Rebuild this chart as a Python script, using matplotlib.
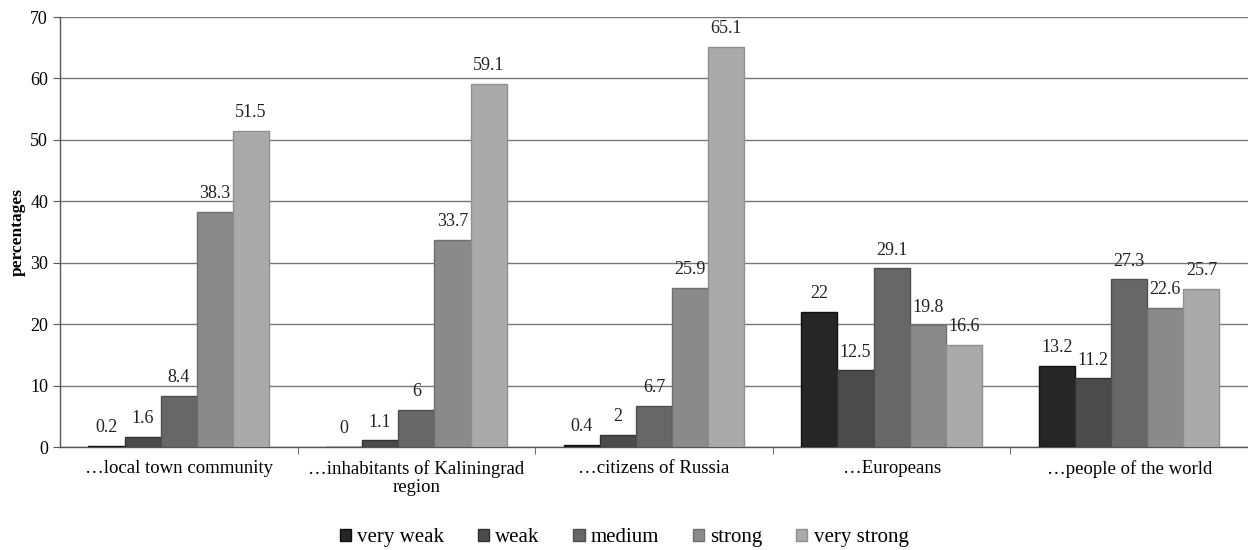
import numpy as np
import matplotlib.pyplot as plt

plt.rcParams.update({
    'font.family': 'serif',
    'font.serif': ['Liberation Serif', 'DejaVu Serif'],
    'axes.linewidth': 1.0,
})

categories = ['\u2026local town community', '\u2026inhabitants of Kaliningrad\nregion',
              '\u2026citizens of Russia', '\u2026Europeans', '\u2026people of the world']
series = ['very weak', 'weak', 'medium', 'strong', 'very strong']
very_weak = [0.2, 0, 0.4, 22, 13.2]
weak = [1.6, 1.1, 2, 12.5, 11.2]
medium = [8.4, 6, 6.7, 29.1, 27.3]
strong = [38.3, 33.7, 25.9, 19.8, 22.6]
very_strong = [51.5, 59.1, 65.1, 16.6, 25.7]
values = [very_weak, weak, medium, strong, very_strong]
labels = [['0.2', '0', '0.4', '22', '13.2'],
          ['1.6', '1.1', '2', '12.5', '11.2'],
          ['8.4', '6', '6.7', '29.1', '27.3'],
          ['38.3', '33.7', '25.9', '19.8', '22.6'],
          ['51.5', '59.1', '65.1', '16.6', '25.7']]
colors = ['#262626', '#4b4b4b', '#676767', '#8a8a8a', '#aaaaaa']
edges = ['#111111', '#333333', '#505050', '#707070', '#909090']

fig = plt.figure(figsize=(12.48, 5.5), dpi=100)
ax = fig.add_axes([0.048, 0.187, 0.952, 0.782])

x = np.arange(len(categories))
w = 0.152
for i in range(5):
    pos = x + (i - 2) * w
    ax.bar(pos, values[i], w, color=colors[i], edgecolor=edges[i], lw=1.0,
           label=series[i], zorder=3)
    for p, v, t in zip(pos, values[i], labels[i]):
        ax.text(p, v + 1.6, t, ha='center', va='bottom', fontsize=13, color='#222222')

ax.set_xlim(-0.5, 4.5)
ax.set_ylim(0, 70)
ax.set_yticks(np.arange(0, 71, 10))
ax.yaxis.grid(True, color='#777777', lw=1.0, zorder=0)
ax.set_xticks(x)
ax.set_xticklabels(categories, fontsize=13.5, linespacing=1.1)
ax.set_xticks(np.arange(0.5, 4.5, 1), minor=True)
ax.tick_params(axis='x', which='major', length=0, pad=9)
ax.tick_params(axis='x', which='minor', length=5, color='#555555')
ax.tick_params(axis='y', labelsize=13, length=5, color='#555555')
for s in ['top', 'right']:
    ax.spines[s].set_visible(False)
ax.spines['left'].set_color('#555555')
ax.spines['bottom'].set_color('#555555')
ax.set_ylabel('percentages', fontsize=12.5, fontweight='bold', labelpad=3)

fig.legend(*ax.get_legend_handles_labels(), loc='center', bbox_to_anchor=(0.5, 0.022),
           ncol=5, frameon=False, fontsize=15, handlelength=0.55, handleheight=0.55,
           handletextpad=0.3, columnspacing=1.6)

fig.savefig('out.png', dpi=100)
